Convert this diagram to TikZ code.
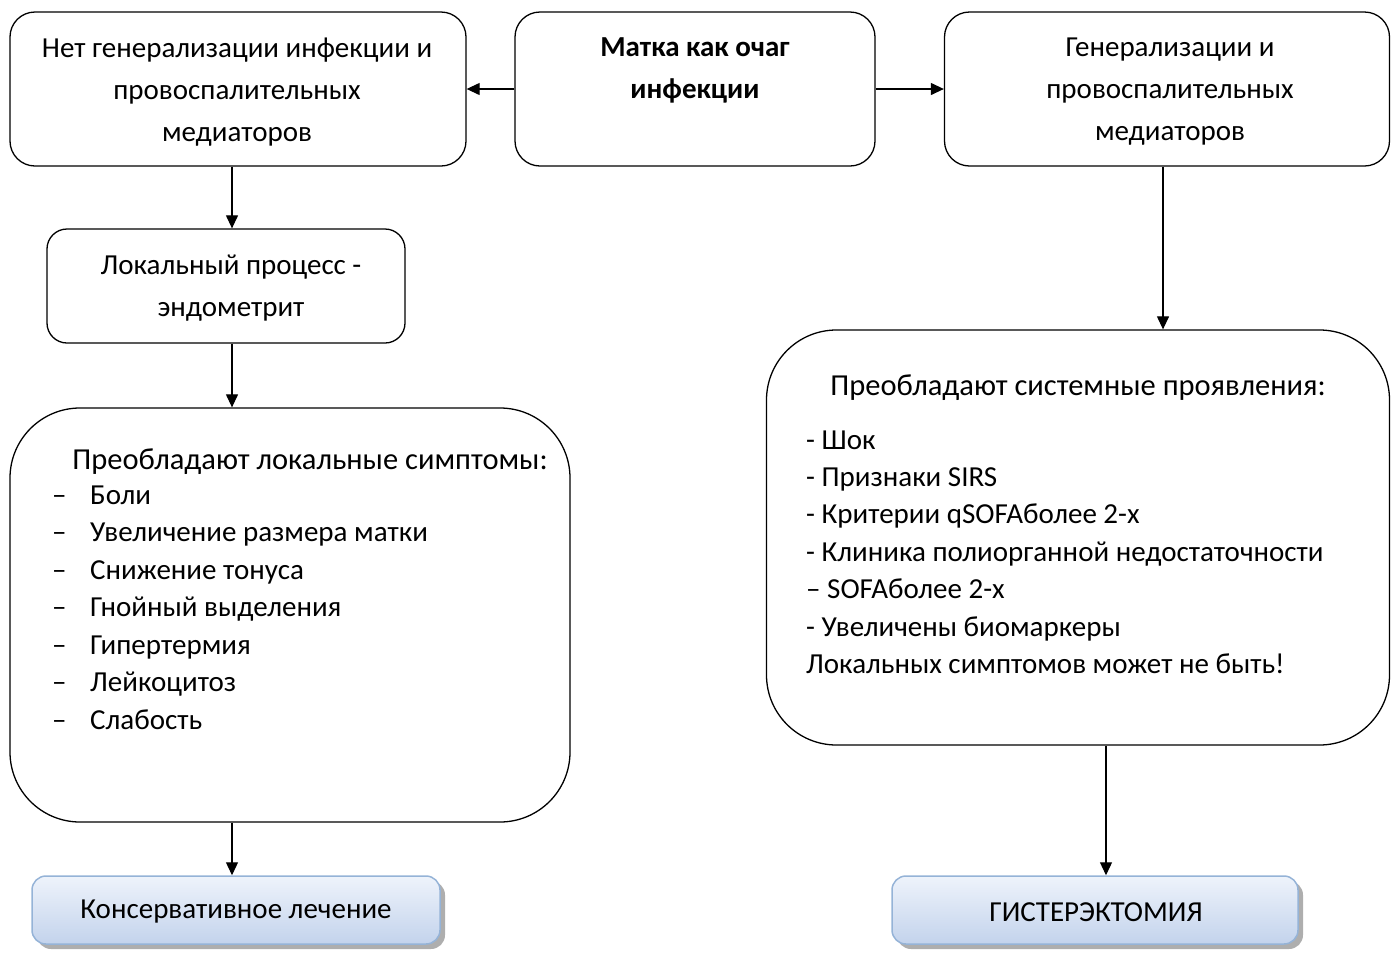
\documentclass[tikz,border=0pt]{standalone}
\usepackage{fontspec}
\setmainfont{Carlito}
\usetikzlibrary{arrows.meta,shadows}
\definecolor{bluetop}{HTML}{EEF3FB}
\definecolor{bluebot}{HTML}{C3D3EC}
\definecolor{blueedge}{HTML}{95B3D7}
\tikzset{
  box/.style={draw, line width=1.3pt, inner sep=0pt, rounded corners=#1},
  box/.default=25pt,
  txt/.style={inner sep=0pt, font=\fontsize{29}{42}\selectfont, align=center},
  ltxt/.style={inner sep=0pt, font=\fontsize{29}{35}\selectfont, anchor=base west},
  ctxt/.style={inner sep=0pt, font=\fontsize{30.5}{35}\selectfont, anchor=base},
  bluebox/.style={draw=blueedge, line width=1.5pt, rounded corners=14pt, top color=bluetop, bottom color=bluebot,
    drop shadow={shadow xshift=5pt, shadow yshift=-5pt, fill=black!45, opacity=0.7}},
  arr/.style={line width=1.2pt, -{Triangle[length=13pt,width=12pt]}}
}
\newcommand{\dsh}{\makebox[38pt][l]{–}}
\begin{document}
\begin{tikzpicture}[x=1pt,y=-1pt]
\useasboundingbox (0,0) rectangle (1392,954);
% boxes
\node[box, minimum width=456pt, minimum height=154pt] (A) at (238,89) {};
\node[box, minimum width=360pt, minimum height=154pt] (B) at (695,89) {};
\node[box, minimum width=445pt, minimum height=154pt] (C) at (1167,89) {};
\node[box=20pt, minimum width=358pt, minimum height=114pt] (D) at (226,286) {};
\node[box=70pt, minimum width=560pt, minimum height=414pt] (E) at (290,615) {};
\node[box=70pt, minimum width=623pt, minimum height=415pt] (G) at (1078,537.5) {};
\node[bluebox, minimum width=408pt, minimum height=68pt] (F) at (236,910) {};
\node[bluebox, minimum width=406pt, minimum height=68pt] (H) at (1095,910) {};
% texts
\node[txt] (At) at (237,92) {Нет генерализации инфекции и\\провоспалительных\\медиаторов};
\node[txt, font=\fontsize{29}{42}\selectfont\bfseries] (Bt) at (695,70) {Матка как очаг\\инфекции};
\node[txt] (Ct) at (1170,92) {Генерализации и\\провоспалительных\\медиаторов};
\node[txt] (Dt) at (231,288) {Локальный процесс -\\эндометрит};
\node[ctxt] (Et) at (310,469) {Преобладают локальные симптомы:};
\foreach \t [count=\i from 0] in {Боли,Увеличение размера матки,Снижение тонуса,Гнойный выделения,Гипертермия,Лейкоцитоз,Слабость}
  \node[ltxt] (El\i) at (52,504+37.5*\i) {\dsh\t};
\node[ctxt] (Gt) at (1078,395) {Преобладают системные проявления:};
\foreach \t [count=\i from 0] in {- Шок,- Признаки SIRS,- Критерии qSOFAболее 2-х,- Клиника полиорганной недостаточности,– SOFAболее 2-х,- Увеличены биомаркеры,Локальных симптомов может не быть!}
  \node[ltxt] (Gl\i) at (806,449+37.4*\i) {\t};
\node[txt] (Ft) at (236,912) {Консервативное лечение};
\node[txt] (Ht) at (1096,912) {ГИСТЕРЭКТОМИЯ};
% connectors
\coordinate (lc) at (232,0);
\coordinate (rc) at (1163,0);
\coordinate (rc2) at (1106,0);
\draw[arr] (B.west) -- (A.east);
\draw[arr] (B.east) -- (C.west);
\draw[arr] (A.south -| lc) -- (D.north -| lc);
\draw[arr] (D.south -| lc) -- (E.north -| lc);
\draw[arr] (E.south -| lc) -- (F.north -| lc);
\draw[arr] (C.south -| rc) -- (G.north -| rc);
\draw[arr] (G.south -| rc2) -- (H.north -| rc2);
\end{tikzpicture}
\end{document}
